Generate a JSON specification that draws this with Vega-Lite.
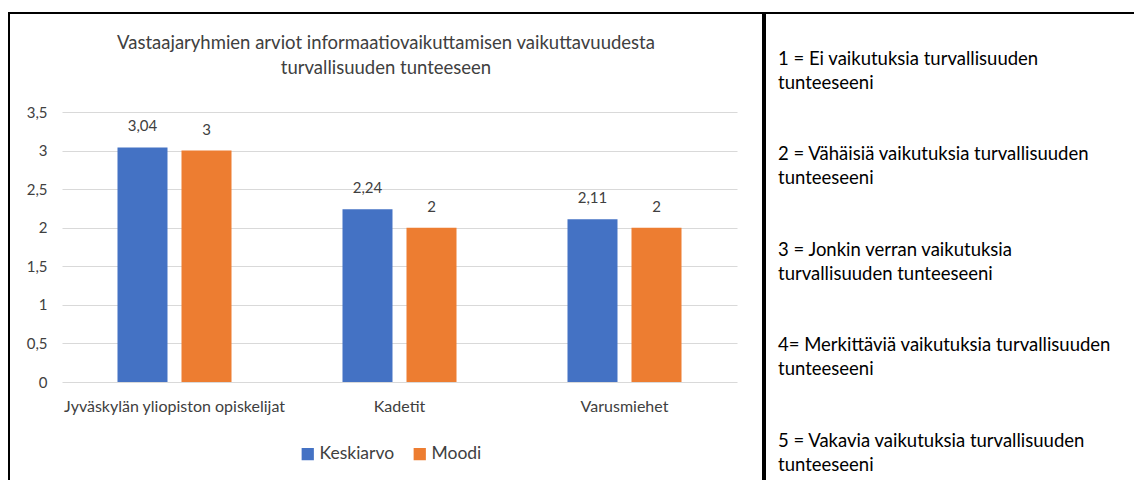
{
  "$schema": "https://vega.github.io/schema/vega-lite/v6.json",
  "padding": {"left": 8, "top": 12, "right": 0, "bottom": 0},
  "background": "white",
  "config": {
    "locale": {"number": {"decimal": ",", "thousands": " ", "grouping": [3], "currency": ["", " €"]}},
    "font": "Lato",
    "view": {"stroke": "black", "strokeWidth": 2},
    "concat": {"spacing": 0}
  },
  "datasets": {
    "bars": [
      {"group": "Jyväskylän yliopiston opiskelijat", "measure": "Keskiarvo", "value": 3.04},
      {"group": "Jyväskylän yliopiston opiskelijat", "measure": "Moodi", "value": 3},
      {"group": "Kadetit", "measure": "Keskiarvo", "value": 2.24},
      {"group": "Kadetit", "measure": "Moodi", "value": 2},
      {"group": "Varusmiehet", "measure": "Keskiarvo", "value": 2.11},
      {"group": "Varusmiehet", "measure": "Moodi", "value": 2}
    ],
    "scaleText": [
      {"item": 1, "label": "1 = Ei vaikutuksia turvallisuuden\ntunteeseeni"},
      {"item": 2, "label": "2 = Vähäisiä vaikutuksia turvallisuuden\ntunteeseeni"},
      {"item": 3, "label": "3 = Jonkin verran vaikutuksia\nturvallisuuden tunteeseeni"},
      {"item": 4, "label": "4= Merkittäviä vaikutuksia turvallisuuden\ntunteeseeni"},
      {"item": 5, "label": "5 = Vakavia vaikutuksia turvallisuuden\ntunteeseeni"}
    ]
  },
  "hconcat": [
    {
      "width": 754,
      "height": 480,
      "title": {
        "text": ["Vastaajaryhmien arviot informaatiovaikuttamisen vaikuttavuudesta", "turvallisuuden tunteeseen"],
        "anchor": "middle",
        "offset": -64,
        "fontSize": 18.5,
        "fontWeight": "normal",
        "lineHeight": 25,
        "color": "#404040"
      },
      "data": {"name": "bars"},
      "encoding": {
        "x": {
          "field": "group", "type": "nominal", "sort": null,
          "scale": {"range": [53, 728], "paddingInner": 0, "paddingOuter": 0},
          "axis": {"title": null, "labelAngle": 0, "ticks": false, "domain": false, "offset": -111, "labelPadding": 16, "labelFontSize": 16, "labelLimit": 0, "labelColor": "#404040", "grid": false}
        },
        "xOffset": {
          "field": "measure", "type": "nominal", "sort": ["Keskiarvo", "Moodi"],
          "scale": {"paddingInner": 0.21875, "paddingOuter": 0.867}
        },
        "y": {
          "field": "value", "type": "quantitative",
          "scale": {"domain": [0, 3.5], "range": [369, 99], "nice": false},
          "axis": {"title": null, "values": [0, 0.5, 1, 1.5, 2, 2.5, 3, 3.5], "format": "~g", "ticks": false, "domain": false, "offset": -42, "labelPadding": 4, "labelFontSize": 15, "labelColor": "#404040", "gridColor": "#D9D9D9", "gridWidth": 1}
        }
      },
      "layer": [
        {
          "mark": {"type": "bar"},
          "encoding": {
            "color": {
              "field": "measure", "type": "nominal",
              "scale": {"domain": ["Keskiarvo", "Moodi"], "range": ["#4472C4", "#ED7D31"]},
              "legend": {"title": null, "orient": "none", "legendX": 290, "legendY": 432, "direction": "horizontal", "symbolType": "square", "symbolSize": 150, "labelFontSize": 17.5, "labelOffset": 3, "labelColor": "#404040", "columnPadding": 16}
            }
          }
        },
        {
          "mark": {"type": "text", "baseline": "middle", "dy": -21, "fontSize": 15, "color": "#404040"},
          "encoding": {"text": {"field": "value", "type": "quantitative", "format": "~g"}}
        }
      ]
    },
    {
      "width": 380,
      "height": 480,
      "data": {"name": "scaleText"},
      "mark": {"type": "text", "align": "left", "baseline": "middle", "lineBreak": "\n", "lineHeight": 24, "fontSize": 18.5, "color": "#000000", "dx": 13},
      "encoding": {
        "x": {"datum": "Asteikko", "type": "nominal", "scale": {"type": "point", "padding": 0, "align": 0}, "axis": null},
        "y": {"field": "item", "type": "ordinal", "scale": {"type": "point", "padding": 0.513, "align": 0.469}, "axis": null},
        "text": {"field": "label"}
      }
    }
  ]
}
